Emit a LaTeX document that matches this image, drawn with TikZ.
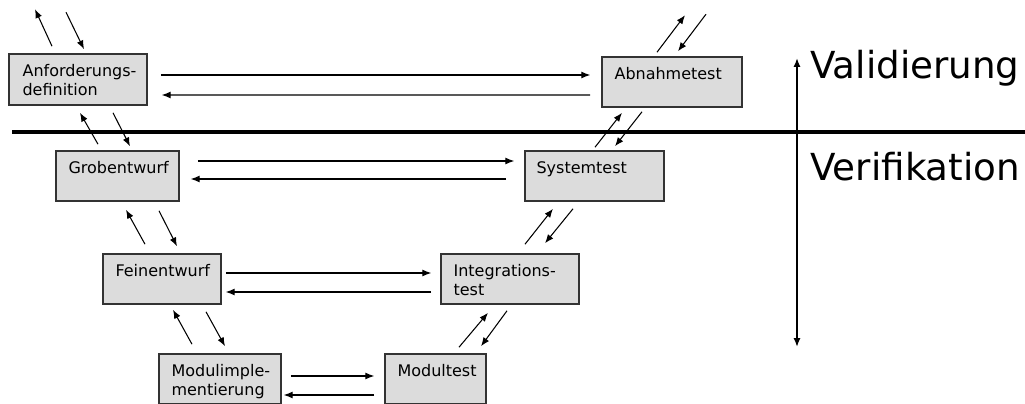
\documentclass[tikz,border=0pt]{standalone}
\usepackage{fontspec}
\setmainfont{DejaVu Sans}
\usetikzlibrary{calc, arrows.meta}

\definecolor{boxfill}{HTML}{DCDCDC}
\definecolor{boxline}{HTML}{333333}

\begin{document}
\begin{tikzpicture}[x=0.02cm, y=-0.02cm,
    phase/.style={draw=boxline, fill=boxfill, line width=0.9pt, inner sep=0pt},
    phasetext/.style={anchor=north west, inner sep=0pt, align=left,
        font=\fontsize{9.1pt}{10.8pt}\selectfont},
    flow/.style={line width=0.6pt, -{Latex[length=5pt, width=3.9pt]}},
    side/.style={font=\fontsize{21.2pt}{25pt}\selectfont, anchor=base west, inner sep=0pt}]
    \useasboundingbox (0,0) rectangle (1025,403);

    \node[phase, minimum width=2.76cm, minimum height=1.02cm] (anf) at (78,79.5) {};
    \node[phase, minimum width=2.80cm, minimum height=1.00cm] (abn) at (672,82) {};
    \node[phase, minimum width=2.46cm, minimum height=1.00cm] (grob) at (117.5,176) {};
    \node[phase, minimum width=2.78cm, minimum height=1.00cm] (sys) at (594.5,176) {};
    \node[phase, minimum width=2.36cm, minimum height=1.00cm] (fein) at (162,279) {};
    \node[phase, minimum width=2.76cm, minimum height=1.00cm] (integ) at (510,279) {};
    \node[phase, minimum width=2.44cm, minimum height=1.00cm] (mimp) at (220,379) {};
    \node[phase, minimum width=2.02cm, minimum height=1.00cm] (mtest) at (435.5,379) {};

    \node[phasetext] (anf-t) at ($(anf.north west)+(14,11)$) {Anforderungs-\\definition};
    \node[phasetext] (abn-t) at ($(abn.north west)+(13,11)$) {Abnahmetest};
    \node[phasetext] (grob-t) at ($(grob.north west)+(13,11)$) {Grobentwurf};
    \node[phasetext] (sys-t) at ($(sys.north west)+(12,11)$) {Systemtest};
    \node[phasetext] (fein-t) at ($(fein.north west)+(13,11)$) {Feinentwurf};
    \node[phasetext] (integ-t) at ($(integ.north west)+(13,11)$) {Integrations-\\test};
    \node[phasetext] (mimp-t) at ($(mimp.north west)+(13,11)$) {Modulimple-\\mentierung};
    \node[phasetext] (mtest-t) at ($(mtest.north west)+(13,11)$) {Modultest};

    % left - right
    \draw[flow] ($(anf.east)+(13,-4.5)$) -- ($(abn.west)+(-11,-7)$);
    \draw[flow] ($(abn.west)+(-11,13)$) -- ($(anf.east)+(14,15.5)$);
    \draw[flow] ($(grob.east)+(18,-15)$) -- ($(sys.west)+(-10,-15)$);
    \draw[flow] ($(sys.west)+(-18,3)$) -- ($(grob.east)+(11,3)$);
    \draw[flow] ($(fein.east)+(4,-6)$) -- ($(integ.west)+(-9,-6)$);
    \draw[flow] ($(integ.west)+(-9,13)$) -- ($(fein.east)+(4,13)$);
    \draw[flow] ($(mimp.east)+(9,-3)$) -- ($(mtest.west)+(-10,-3)$);
    \draw[flow] ($(mtest.west)+(-10,16)$) -- ($(mimp.east)+(2,16)$);

    % down the left side
    \draw[flow] ($(anf.north)+(-26,-7)$) -- ($(anf.north)+(-43,-44)$);
    \draw[flow] ($(anf.north)+(-12,-41)$) -- ($(anf.north)+(6,-4)$);
    \draw[flow] ($(grob.north)+(-19.5,-6)$) -- ($(anf.south)+(2,7)$);
    \draw[flow] ($(anf.south)+(35,7)$) -- ($(grob.north)+(12.5,-4)$);
    \draw[flow] ($(fein.north)+(-17,-9)$) -- ($(grob.south)+(8.5,8)$);
    \draw[flow] ($(grob.south)+(41.5,9)$) -- ($(fein.north)+(15,-7)$);
    \draw[flow] ($(mimp.north)+(-28,-9)$) -- ($(fein.south)+(11,5)$);
    \draw[flow] ($(fein.south)+(44,7)$) -- ($(mimp.north)+(5,-7)$);

    % up the right side
    \draw[flow] ($(mtest.north)+(23.5,-6)$) -- ($(integ.south)+(-22,8)$);
    \draw[flow] ($(integ.south)+(-3,6)$) -- ($(mtest.north)+(45.5,-7)$);
    \draw[flow] ($(integ.north)+(15,-9)$) -- ($(sys.south)+(-41.5,7)$);
    \draw[flow] ($(sys.south)+(-21.5,7)$) -- ($(integ.north)+(35,-10)$);
    \draw[flow] ($(sys.north)+(0.5,-3)$) -- ($(abn.south)+(-50,5)$);
    \draw[flow] ($(abn.south)+(-30,4)$) -- ($(sys.north)+(20.5,-4)$);
    \draw[flow] ($(abn.north)+(-15,-4)$) -- ($(abn.north)+(13,-41)$);
    \draw[flow] ($(abn.north)+(34,-42)$) -- ($(abn.north)+(6,-5)$);

    % separator and axis
    \coordinate (L1) at (12,132);
    \coordinate (L2) at (1025,132);
    \coordinate (V1) at (797,347);
    \coordinate (V2) at (797,58);
    \draw[line width=2.2pt] (L1) -- (L2); % split
    \draw[line width=1.1pt, {Latex[length=5pt, width=4pt]}-{Latex[length=5pt, width=4pt]}] (V1) -- (V2);

    \node[side] (val) at (810,78) {Validierung};
    \node[side] (ver) at (810,180) {Verifikation};
\end{tikzpicture}
\end{document}
